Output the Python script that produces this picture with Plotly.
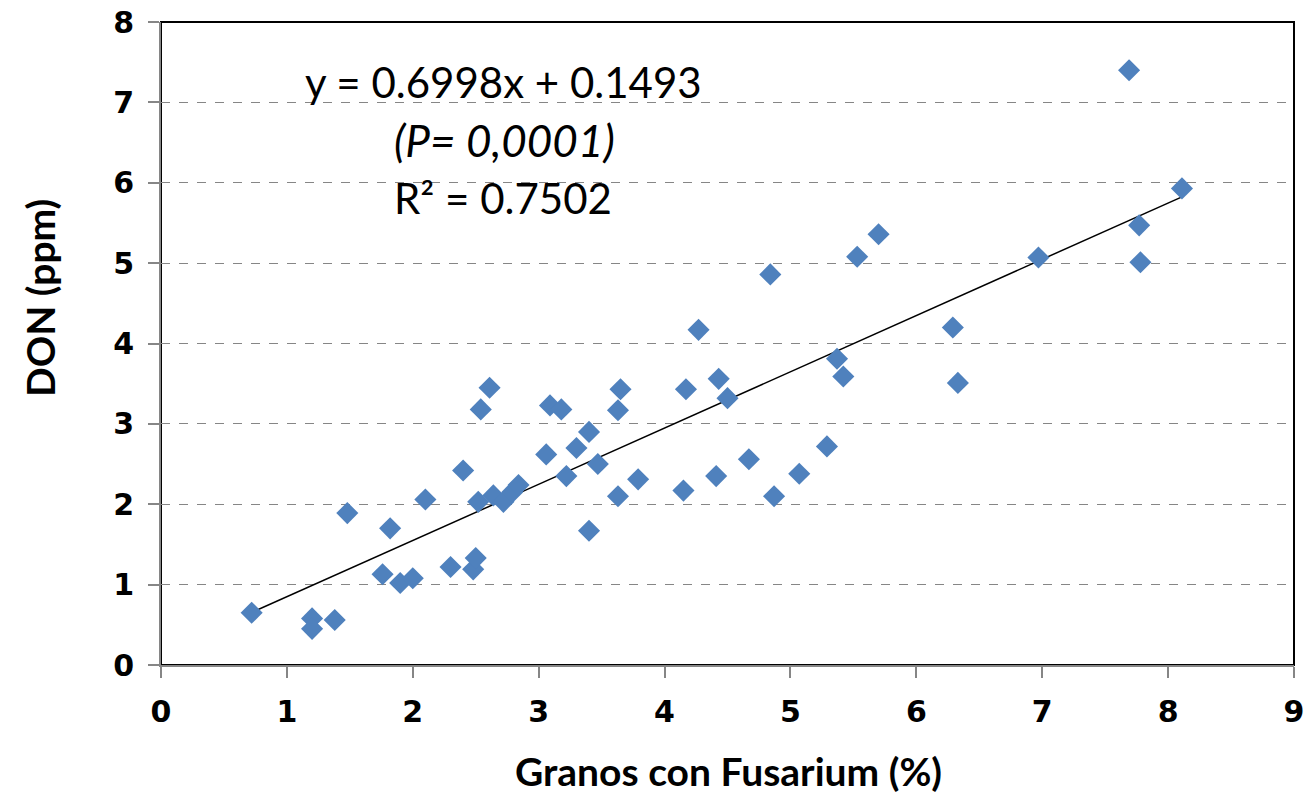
import plotly.graph_objects as go

x_vals = [0.72, 1.20, 1.20, 1.38, 1.48, 1.76, 1.82, 1.90, 2.00, 2.10,
          2.30, 2.40, 2.48, 2.50, 2.52, 2.54, 2.61, 2.64, 2.72, 2.79,
          2.84, 3.06, 3.09, 3.18, 3.22, 3.30, 3.40, 3.40, 3.47, 3.63,
          3.63, 3.65, 3.79, 4.15, 4.17, 4.27, 4.41, 4.43, 4.50, 4.67,
          4.84, 4.87, 5.07, 5.29, 5.37, 5.42, 5.53, 5.70, 6.29, 6.33,
          6.97, 7.69, 7.77, 7.78, 8.11]
y_vals = [0.65, 0.58, 0.45, 0.56, 1.89, 1.13, 1.70, 1.02, 1.08, 2.06,
          1.22, 2.42, 1.19, 1.33, 2.03, 3.18, 3.45, 2.11, 2.03, 2.15,
          2.24, 2.62, 3.23, 3.18, 2.35, 2.70, 2.90, 1.67, 2.50, 2.10,
          3.17, 3.43, 2.31, 2.17, 3.43, 4.17, 2.35, 3.56, 3.32, 2.56,
          4.86, 2.10, 2.38, 2.72, 3.81, 3.59, 5.08, 5.36, 4.20, 3.51,
          5.07, 7.40, 5.47, 5.01, 5.93]

slope = 0.6998
intercept = 0.1493
trend_x = [min(x_vals), max(x_vals)]
trend_y = [slope * v + intercept for v in trend_x]

x_ticks = list(range(0, 10))
y_ticks = list(range(0, 9))

L, R, T, B = 161, 1294, 22, 665
W, H = 1308, 794

fig = go.Figure()
fig.add_trace(go.Scatter(
    x=trend_x, y=trend_y, mode="lines",
    line=dict(color="black", width=1.5), showlegend=False, hoverinfo="skip"))
fig.add_trace(go.Scatter(
    x=x_vals, y=y_vals, mode="markers",
    marker=dict(symbol="diamond", size=17, color="#4F81BD",
                line=dict(width=0)),
    showlegend=False))

tick_font = dict(family="DejaVu Sans", size=30, color="black", weight="bold")
title_font = dict(family="Lato", size=39, color="black", weight="bold")

fig.update_xaxes(
    range=[0, 9], tickvals=x_ticks, ticktext=[str(t) for t in x_ticks],
    showgrid=False, zeroline=False, showline=True, linecolor="#868686",
    linewidth=2, ticks="outside", ticklen=11, tickcolor="#868686",
    tickwidth=1.5, tickfont=tick_font, automargin=False,
    ticklabelstandoff=8)
fig.update_yaxes(
    range=[0, 8], tickvals=y_ticks, ticktext=[str(t) for t in y_ticks],
    showgrid=True, gridcolor="#868686", griddash="dash", gridwidth=1,
    zeroline=False, showline=True, linecolor="#868686", linewidth=2,
    ticks="outside", ticklen=11, tickcolor="#868686", tickwidth=1.5,
    tickfont=tick_font, automargin=False, ticklabelstandoff=8)

fig.add_shape(type="rect", xref="paper", yref="paper", x0=0, y0=0, x1=1, y1=1,
              line=dict(color="black", width=2), layer="below")

def px(xp):
    return (xp - L) / (R - L)

def py(yp):
    return (B - yp) / (B - T)

# axis titles
fig.add_annotation(xref="paper", yref="paper", x=px(728), y=py(771),
                   xanchor="center", yanchor="middle", showarrow=False,
                   text="Granos con Fusarium (%)", font=title_font)
fig.add_annotation(xref="paper", yref="paper", x=px(40), y=py(298),
                   xanchor="center", yanchor="middle", showarrow=False,
                   text="DON (ppm)", font=title_font, textangle=-90)

ann_font = dict(family="Lato", size=42, color="black")
fig.add_annotation(xref="paper", yref="paper", x=px(303), y=py(82),
                   xanchor="left", yanchor="middle",
                   text="y = 0.6998x + 0.1493", showarrow=False, font=ann_font)
fig.add_annotation(xref="paper", yref="paper", x=px(392), y=py(140),
                   xanchor="left", yanchor="middle",
                   text="<i>(P= 0,0001)</i>", showarrow=False,
                   font=dict(family="Lato", size=44, color="black"))
fig.add_annotation(xref="paper", yref="paper", x=px(392), y=py(198),
                   xanchor="left", yanchor="middle",
                   text="R² = 0.7502", showarrow=False, font=ann_font)

fig.update_layout(
    width=W, height=H,
    margin=dict(l=L, r=W - R, t=T, b=H - B),
    paper_bgcolor="white", plot_bgcolor="white",
)

fig.write_html("out.html")
